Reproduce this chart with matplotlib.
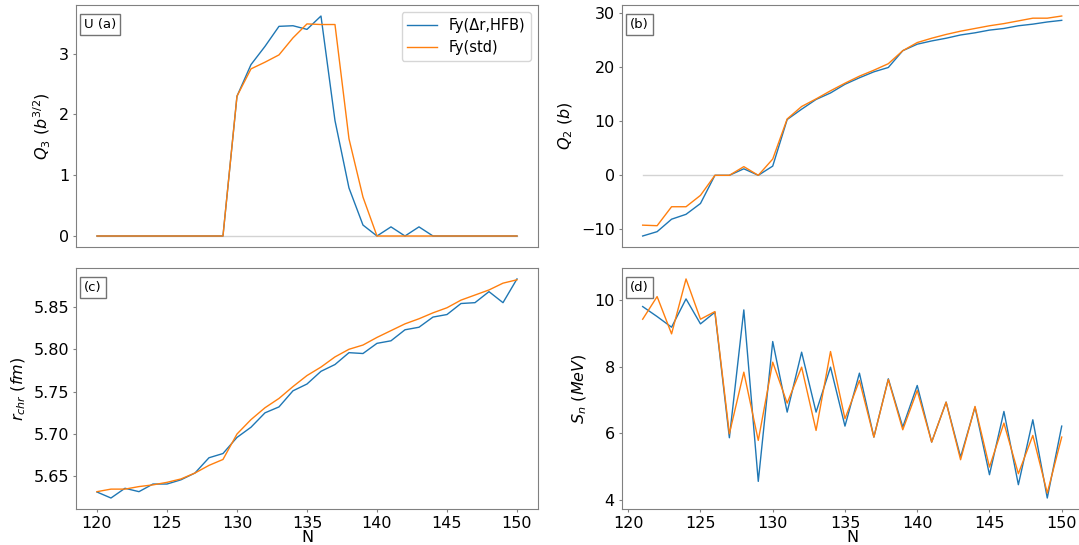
import matplotlib.pyplot as plt
import numpy as np

# Data
N = list(range(120, 151))
N_sn = list(range(121, 151))

q3_hfb = [0, 0, 0, 0, 0, 0, 0, 0, 0, 0,
          2.30, 2.82, 3.12, 3.45, 3.46, 3.40, 3.62, 1.90, 0.79, 0.18,
          0, 0.15, 0, 0.15, 0, 0, 0, 0, 0, 0, 0]
q3_std = [0, 0, 0, 0, 0, 0, 0, 0, 0, 0,
          2.30, 2.75, 2.86, 2.98, 3.26, 3.49, 3.48, 3.48, 1.60, 0.64,
          0, 0, 0, 0, 0, 0, 0, 0, 0, 0, 0]

q2_hfb = [-11.2, -10.4, -8.1, -7.2, -5.2, 0, 0, 1.2, 0, 1.7,
          10.3, 12.2, 14.0, 15.2, 16.8, 18.0, 19.1, 19.9, 23.0, 24.2,
          24.8, 25.3, 25.9, 26.3, 26.8, 27.1, 27.6, 27.9, 28.3, 28.6]
q2_std = [-9.2, -9.3, -5.8, -5.8, -3.7, 0, 0, 1.6, 0, 3.0,
          10.4, 12.7, 14.1, 15.6, 17.0, 18.3, 19.4, 20.6, 23.0, 24.5,
          25.3, 26.0, 26.6, 27.1, 27.6, 28.0, 28.5, 29.0, 29.0, 29.4]

r_hfb = [5.6316, 5.6245, 5.636, 5.632, 5.641, 5.641, 5.646, 5.654, 5.672, 5.677,
         5.696, 5.708, 5.725, 5.732, 5.751, 5.759, 5.774, 5.782, 5.796, 5.795,
         5.807, 5.810, 5.823, 5.826, 5.838, 5.841, 5.854, 5.855, 5.868, 5.855, 5.883]
r_std = [5.632, 5.635, 5.635, 5.638, 5.640, 5.643, 5.647, 5.654, 5.663, 5.670,
         5.700, 5.717, 5.731, 5.742, 5.756, 5.769, 5.779, 5.791, 5.800, 5.805,
         5.814, 5.822, 5.830, 5.836, 5.843, 5.849, 5.858, 5.864, 5.870, 5.878, 5.882]

sn_hfb = [9.80, 9.50, 9.18, 10.03, 9.28, 9.63, 5.86, 9.70, 4.55, 8.75,
          6.63, 8.43, 6.63, 7.98, 6.21, 7.80, 5.88, 7.63, 6.18, 7.43,
          5.73, 6.93, 5.28, 6.78, 4.75, 6.65, 4.45, 6.40, 4.05, 6.21]
sn_std = [9.42, 10.10, 8.98, 10.63, 9.42, 9.65, 5.98, 7.83, 5.78, 8.13,
          6.90, 7.98, 6.08, 8.45, 6.43, 7.58, 5.88, 7.61, 6.10, 7.28,
          5.73, 6.93, 5.20, 6.80, 4.98, 6.30, 4.78, 5.93, 4.20, 5.88]

blue = '#1f77b4'
orange = '#ff7f0e'
lw = 1.0

plt.rcParams['font.size'] = 11.5
plt.rcParams['axes.edgecolor'] = '0.5'
plt.rcParams['xtick.color'] = '0.5'
plt.rcParams['ytick.color'] = '0.5'
plt.rcParams['xtick.labelcolor'] = 'black'
plt.rcParams['ytick.labelcolor'] = 'black'
plt.rcParams['xtick.major.size'] = 2.5
plt.rcParams['ytick.major.size'] = 2.5
plt.rcParams['xtick.major.pad'] = 2.5
plt.rcParams['ytick.major.pad'] = 2.5

fig = plt.figure(figsize=(10.79, 5.45), dpi=100)
ax_a = fig.add_axes([0.0704, 0.5468, 0.4282, 0.444])
ax_b = fig.add_axes([0.5762, 0.5468, 0.4272, 0.444])
ax_c = fig.add_axes([0.0704, 0.0661, 0.4282, 0.4422], sharex=ax_a)
ax_d = fig.add_axes([0.5762, 0.0661, 0.4272, 0.4422], sharex=ax_b)

box = dict(boxstyle='square,pad=0.3', fc='white', ec='0.45', lw=1)

def tag(ax, txt):
    ax.text(0.018, 0.946, txt, transform=ax.transAxes, ha='left', va='top',
            fontsize=9.5, bbox=box)

# (a) octupole moment
ax_a.plot(N, np.zeros(len(N)), color='lightgray', lw=1, zorder=0)
ax_a.plot(N, q3_hfb, color=blue, lw=lw, label='Fy(Δr,HFB)')
ax_a.plot(N, q3_std, color=orange, lw=lw, label='Fy(std)')
ax_a.set_ylabel('$Q_3$ ($b^{3/2}$)')
ax_a.legend(loc='upper right', fontsize=10.5)
tag(ax_a, 'U (a)')
ax_a.tick_params(axis='x', bottom=False, labelbottom=False)

# (b) quadrupole moment
ax_b.plot(N_sn, np.zeros(len(N_sn)), color='lightgray', lw=1, zorder=0)
ax_b.plot(N_sn, q2_hfb, color=blue, lw=lw)
ax_b.plot(N_sn, q2_std, color=orange, lw=lw)
ax_b.set_ylabel('$Q_2$ $(b)$')
tag(ax_b, '(b)')
ax_b.tick_params(axis='x', bottom=False, labelbottom=False)

# (c) charge radius
ax_c.plot(N, r_hfb, color=blue, lw=lw)
ax_c.plot(N, r_std, color=orange, lw=lw)
ax_c.set_ylabel('$r_{chr}$ $(fm)$')
ax_c.set_xlabel('N', labelpad=-1)
tag(ax_c, '(c)')

# (d) neutron separation energy
ax_d.plot(N_sn, sn_hfb, color=blue, lw=lw)
ax_d.plot(N_sn, sn_std, color=orange, lw=lw)
ax_d.set_ylabel('$S_n$ $(MeV)$')
ax_d.set_xlabel('N', labelpad=-1)
ax_d.set_xticks([120, 125, 130, 135, 140, 145, 150])
tag(ax_d, '(d)')

fig.savefig('out.png', dpi=100)
